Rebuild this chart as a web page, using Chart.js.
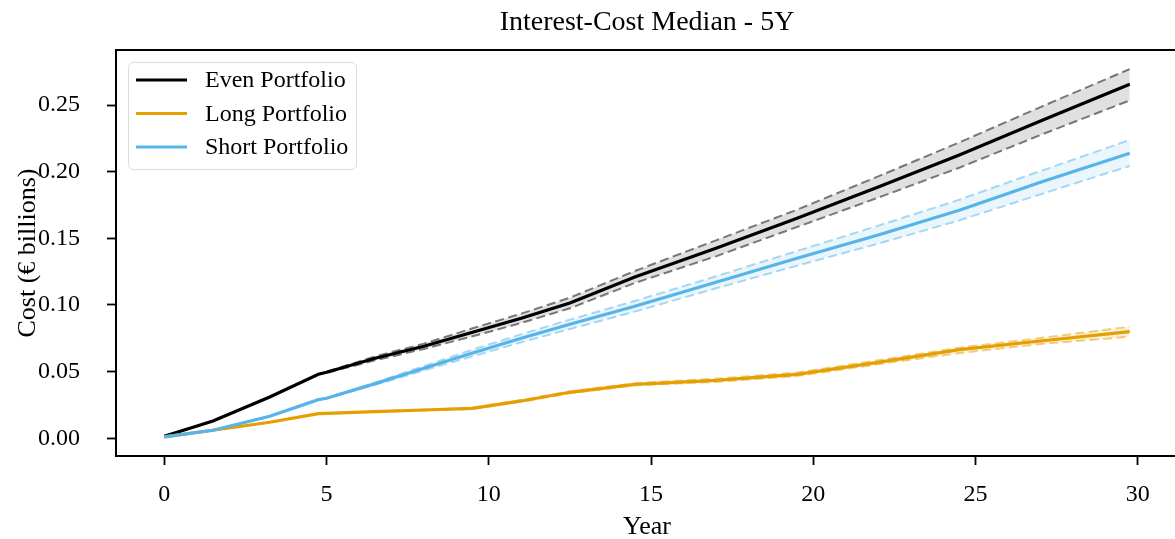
<!DOCTYPE html>
<html>
<head>
<meta charset="utf-8">
<script src="https://cdn.jsdelivr.net/npm/chart.js@4.4.1/dist/chart.umd.min.js"></script>
<style>
  html, body { margin: 0; padding: 0; background: #fff; }
  #wrap { width: 1175px; height: 539px; overflow: hidden; position: relative; }
  canvas { display: block; }
</style>
</head>
<body>
<div id="wrap"><canvas id="chart" width="1180" height="539"></canvas></div>
<script>
// Simulation horizon (years) at which each series is sampled
const years = [0, 1.5, 3.25, 4.75, 5, 6.5, 8, 9.5, 11, 12.5, 14.5, 17, 19.5, 22, 24.5, 27, 29.75];

// Even portfolio: median and spread band
const evenMedian = [0.0015, 0.013, 0.031, 0.048, 0.0495, 0.060, 0.069, 0.0795, 0.090, 0.1015, 0.121, 0.1425, 0.165, 0.1885, 0.2125, 0.2380, 0.2656];
const evenUpper  = [0.0015, 0.013, 0.031, 0.048, 0.0500, 0.0615, 0.071, 0.0825, 0.0935, 0.1055, 0.1255, 0.1485, 0.1715, 0.1965, 0.2220, 0.2485, 0.2770];
const evenLower  = [0.0015, 0.013, 0.031, 0.048, 0.0490, 0.0585, 0.067, 0.0765, 0.0865, 0.0975, 0.1165, 0.1365, 0.1585, 0.1805, 0.2030, 0.2275, 0.2535];

// Long portfolio
const longMedian = [0.001, 0.006, 0.012, 0.0185, 0.0187, 0.0200, 0.0212, 0.0225, 0.0280, 0.0345, 0.0405, 0.0435, 0.0480, 0.0570, 0.0665, 0.0730, 0.0800];
const longUpper  = [0.001, 0.006, 0.012, 0.0185, 0.0188, 0.0203, 0.0216, 0.0230, 0.0287, 0.0352, 0.0413, 0.0447, 0.0493, 0.0585, 0.0680, 0.0752, 0.0837];
const longLower  = [0.001, 0.006, 0.012, 0.0185, 0.0186, 0.0197, 0.0208, 0.0220, 0.0273, 0.0338, 0.0397, 0.0423, 0.0467, 0.0555, 0.0640, 0.0707, 0.0762];

// Short portfolio
const shortMedian = [0.001, 0.006, 0.0165, 0.029, 0.0300, 0.0410, 0.0525, 0.0640, 0.0750, 0.0855, 0.0990, 0.1170, 0.1350, 0.1525, 0.1710, 0.1920, 0.2138];
const shortUpper  = [0.001, 0.006, 0.0165, 0.029, 0.0302, 0.0418, 0.0542, 0.0665, 0.0780, 0.0890, 0.1030, 0.1215, 0.1405, 0.1595, 0.1790, 0.2005, 0.2238];
const shortLower  = [0.001, 0.006, 0.0165, 0.029, 0.0298, 0.0402, 0.0508, 0.0615, 0.0720, 0.0820, 0.0950, 0.1125, 0.1295, 0.1460, 0.1635, 0.1830, 0.2043];

const xTicks = [0, 5, 10, 15, 20, 25, 30];
const yTicks = [0, 0.05, 0.10, 0.15, 0.20, 0.25];
const seriesNames = ['Even Portfolio', 'Long Portfolio', 'Short Portfolio'];
const titleText = 'Interest-Cost Median - 5Y';

const COLORS = {
  even:  { line: '#000000', dash: 'rgba(0,0,0,0.5)', fill: 'rgba(0,0,0,0.12)' },
  long:  { line: '#E69F00', dash: 'rgba(230,159,0,0.5)', fill: 'rgba(230,159,0,0.14)' },
  short: { line: '#56B4E9', dash: 'rgba(86,180,233,0.5)', fill: 'rgba(86,180,233,0.12)' }
};
const FONT = "'Liberation Serif', 'DejaVu Serif', serif";

const pts = arr => years.map((x, i) => ({ x, y: arr[i] }));

function band(upper, lower, c, order) {
  const common = {
    borderColor: c.dash, borderWidth: 2, borderDash: [9, 4.5],
    pointRadius: 0, tension: 0, order
  };
  return [
    Object.assign({ data: pts(upper), fill: '+1', backgroundColor: c.fill }, common),
    Object.assign({ data: pts(lower), fill: false }, common)
  ];
}
function median(arr, c, order) {
  return { data: pts(arr), borderColor: c.line, borderWidth: 3.2, pointRadius: 0, tension: 0, fill: false, order };
}

const datasets = [
  ...band(evenUpper, evenLower, COLORS.even, 5),
  median(evenMedian, COLORS.even, 2),
  ...band(longUpper, longLower, COLORS.long, 4),
  median(longMedian, COLORS.long, 1),
  ...band(shortUpper, shortLower, COLORS.short, 3),
  median(shortMedian, COLORS.short, 0)
];

// Frame, title and legend drawn on the canvas
const decorations = {
  id: 'decorations',
  afterDraw(chart) {
    const ctx = chart.ctx;
    const a = chart.chartArea;
    ctx.save();
    // top spine
    ctx.strokeStyle = '#000';
    ctx.lineWidth = 2;
    ctx.beginPath();
    ctx.moveTo(a.left - 1, a.top);
    ctx.lineTo(a.right + 1, a.top);
    ctx.stroke();

    // title
    ctx.fillStyle = '#000';
    ctx.font = '28px ' + FONT;
    ctx.textAlign = 'center';
    ctx.textBaseline = 'middle';
    ctx.fillText(titleText, (a.left + a.right) / 2, 23);

    // legend
    const bx = 128, by = 62, bw = 228, bh = 107, r = 5;
    ctx.fillStyle = 'rgba(255,255,255,0.85)';
    ctx.strokeStyle = '#dcdcdc';
    ctx.lineWidth = 1;
    ctx.beginPath();
    ctx.roundRect(bx + 0.5, by + 0.5, bw, bh, r);
    ctx.fill();
    ctx.stroke();
    const cols = [COLORS.even.line, COLORS.long.line, COLORS.short.line];
    const rows = [80, 113.5, 147];
    ctx.font = '24px ' + FONT;
    ctx.textAlign = 'left';
    ctx.textBaseline = 'middle';
    seriesNames.forEach((name, i) => {
      ctx.strokeStyle = cols[i];
      ctx.lineWidth = 3.2;
      ctx.beginPath();
      ctx.moveTo(136, rows[i]);
      ctx.lineTo(187, rows[i]);
      ctx.stroke();
      ctx.fillStyle = '#000';
      ctx.fillText(name, 205, rows[i] + 1);
    });
    ctx.restore();
  }
};

new Chart(document.getElementById('chart'), {
  type: 'line',
  data: { datasets },
  options: {
    responsive: false,
    animation: false,
    devicePixelRatio: 1,
    layout: { padding: { left: 0, right: 2, top: 50, bottom: 0 } },
    plugins: { legend: { display: false }, tooltip: { enabled: false }, title: { display: false } },
    scales: {
      x: {
        type: 'linear',
        min: -1.4875, max: 31.2375,
        afterBuildTicks: s => { s.ticks = xTicks.map(v => ({ value: v })); },
        afterFit: s => { s.height = 83; },
        grid: { drawOnChartArea: false, drawTicks: true, tickLength: 9, tickWidth: 1.8, tickColor: '#000' },
        border: { display: true, color: '#000', width: 2 },
        ticks: { color: '#000', font: { family: FONT, size: 24 }, padding: 15, maxRotation: 0,
                 callback: v => String(v) },
        title: { display: true, text: 'Year', color: '#000', font: { family: FONT, size: 26 },
                 padding: { top: 0, bottom: -4 } }
      },
      y: {
        min: -0.0133, max: 0.2913,
        afterBuildTicks: s => { s.ticks = yTicks.map(v => ({ value: v })); },
        afterFit: s => { s.width = 116; },
        grid: { drawOnChartArea: false, drawTicks: true, tickLength: 9, tickWidth: 1.8, tickColor: '#000' },
        border: { display: true, color: '#000', width: 2 },
        ticks: { color: '#000', font: { family: FONT, size: 24 }, padding: 27,
                 callback: v => Number(v).toFixed(2) },
        title: { display: true, text: 'Cost (€ billions)', color: '#000', font: { family: FONT, size: 26 },
                 padding: { top: 13, bottom: 0 } }
      }
    }
  },
  plugins: [decorations]
});
</script>
</body>
</html>
